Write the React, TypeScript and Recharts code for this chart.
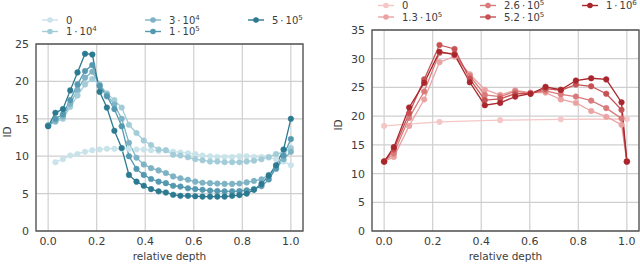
import { CartesianGrid, Line, LineChart, ReferenceArea, XAxis, YAxis } from "recharts";

// left panel: relative depth sampled 34 times
const depthLeft = [
  0, 0.03, 0.061, 0.091, 0.121, 0.152, 0.182, 0.212, 0.242, 0.273, 0.303, 0.333,
  0.364, 0.394, 0.424, 0.455, 0.485, 0.515, 0.545, 0.576, 0.606, 0.636, 0.667,
  0.697, 0.727, 0.758, 0.788, 0.818, 0.848, 0.879, 0.909, 0.939, 0.97, 1.0,
];
const left0 = [
  null, 9.2, 9.6, 10.1, 10.3, 10.6, 10.8, 10.9, 11.0, 11.0, 11.0, 11.0, 10.9, 10.9,
  10.8, 10.7, 10.8, 10.6, 10.5, 10.4, 10.3, 10.1, 10.0, 9.9, 9.9, 9.9, 10.0, 10.0,
  9.9, 9.9, 9.8, 9.6, 9.3, 8.8,
];
const left1e4 = [
  14.1, 14.6, 15.0, 16.6, 18.1, 19.6, 20.3, 19.6, 18.4, 17.5, 16.5, 14.2, 13.1, 12.1,
  11.5, 10.9, 10.8, 10.2, 10.1, 9.85, 9.6, 9.45, 9.3, 9.3, 9.2, 9.2, 9.2, 9.3, 9.4,
  9.6, 9.9, 10.3, 10.5, 11.1,
];
const left3e4 = [
  14.1, 14.7, 15.3, 17.0, 18.9, 20.5, 21.3, 19.5, 18.2, 16.9, 15.0, 11.8, 9.8, 8.9,
  8.4, 8.1, 7.75, 7.3, 7.05, 6.85, 6.6, 6.45, 6.4, 6.35, 6.3, 6.3, 6.35, 6.5, 6.7,
  6.9, 7.5, 8.3, 9.6, 10.6,
];
const left1e5 = [
  14.1, 15.0, 15.6, 17.5, 19.6, 21.4, 22.2, 19.4, 18.0, 16.3, 14.0, 10.0, 8.3, 7.5,
  6.95, 6.6, 6.4, 6.05, 5.95, 5.7, 5.6, 5.5, 5.4, 5.35, 5.3, 5.3, 5.35, 5.45, 5.6,
  6.0, 6.9, 8.4, 10.1, 12.3,
];
const left5e5 = [
  14.0, 15.8, 16.3, 18.8, 21.2, 23.7, 23.6, 18.6, 16.5, 13.4, 11.1, 7.5, 6.6, 6.05,
  5.6, 5.3, 5.15, 4.85, 4.7, 4.7, 4.65, 4.6, 4.6, 4.6, 4.6, 4.7, 4.8, 5.0, 5.5, 6.3,
  7.4, 8.8, 10.9, 15.0,
];

// right panel
const depthRight = [
  0, 0.04, 0.103, 0.165, 0.228, 0.29, 0.353, 0.415, 0.478, 0.54, 0.603, 0.665, 0.728,
  0.79, 0.853, 0.915, 0.978, 1.0,
];
const right0 = [18.3, null, null, null, 19.0, null, null, null, 19.3, null, null, null, 19.45, null, null, null, null, 19.5];
const right13e4 = [12.1, 12.9, 18.3, 22.9, 29.4, 30.4, 27.3, 24.6, 23.7, 24.5, 24.1, 24.1, 22.9, 22.3, 20.9, 19.9, 18.5, 12.1];
const right26e4 = [12.1, 13.5, 19.7, 24.3, 31.0, 30.9, 27.0, 23.7, 23.4, 24.3, 24.0, 24.4, 23.8, 23.4, 22.7, 21.4, 19.6, 12.1];
const right52e4 = [12.1, 14.2, 20.5, 26.4, 32.4, 31.7, 26.5, 22.8, 23.0, 23.9, 23.9, 24.8, 24.5, 25.5, 25.2, 23.9, 21.1, 12.1];
const right1e6 = [12.1, 14.6, 21.5, 25.8, 31.2, 30.7, 25.9, 21.9, 22.3, 23.4, 23.9, 25.1, 24.6, 26.2, 26.6, 26.4, 22.4, 12.1];

const xTicks = [0, 0.2, 0.4, 0.6, 0.8, 1.0];
const leftYTicks = [0, 5, 10, 15, 20, 25];
const rightYTicks = [0, 5, 10, 15, 20, 25, 30, 35];

type Series = { key: string; base: string; exp?: string; color: string; values: (number | null)[] };

const leftSeries: Series[] = [
  { key: "a", base: "0", color: "#c9e3eb", values: left0 },
  { key: "b", base: "1\u2009·\u200910", exp: "4", color: "#a3ccd9", values: left1e4 },
  { key: "c", base: "3\u2009·\u200910", exp: "4", color: "#7db3c5", values: left3e4 },
  { key: "d", base: "1\u2009·\u200910", exp: "5", color: "#5599b0", values: left1e5 },
  { key: "e", base: "5\u2009·\u200910", exp: "5", color: "#2c7a91", values: left5e5 },
];
const rightSeries: Series[] = [
  { key: "a", base: "0", color: "#f5c6c6", values: right0 },
  { key: "b", base: "1.3\u2009·\u200910", exp: "5", color: "#eaa3a3", values: right13e4 },
  { key: "c", base: "2.6\u2009·\u200910", exp: "5", color: "#d97a7b", values: right26e4 },
  { key: "d", base: "5.2\u2009·\u200910", exp: "5", color: "#c65254", values: right52e4 },
  { key: "e", base: "1\u2009·\u200910", exp: "6", color: "#a8262c", values: right1e6 },
];

const FONT = "'DejaVu Sans', sans-serif";
const INK = "#3c3c3c";
const GRID = "#cfcfcf";

function buildRows(xs: number[], series: Series[]) {
  return xs.map((x, i) => {
    const row: Record<string, number | null> = { x };
    series.forEach((s) => (row[s.key] = s.values[i]));
    return row;
  });
}

// column/row slots for the legend entries, matplotlib ncol=3 layout
const slots = [
  [0, 0], [0, 1], [1, 0], [1, 1], [2, 0],
];

function LegendRow({ series, x0, y0, colW }: { series: Series[]; x0: number; y0: number; colW: number }) {
  return (
    <g fontFamily={FONT} fontSize={10} fill={INK}>
      {series.map((s, i) => {
        const [c, r] = slots[i];
        const x = x0 + c * colW;
        const y = y0 + r * 11.5;
        return (
          <g key={s.key}>
            <line x1={x} x2={x + 16} y1={y} y2={y} stroke={s.color} strokeWidth={1.4} />
            <circle cx={x + 8} cy={y} r={2.8} fill={s.color} />
            <text x={x + 24} y={y + 3.6}>
              {s.base}
              {s.exp && (
                <tspan dy={-4} fontSize={7}>
                  {s.exp}
                </tspan>
              )}
            </text>
          </g>
        );
      })}
    </g>
  );
}

const YTick = (p: any) => (
  <text x={p.x} y={p.y} dy={4} textAnchor="end" fontFamily={FONT} fontSize={11} fill={INK}>
    {p.payload.value}
  </text>
);

const XTick = (p: any) => (
  <text x={p.x} y={p.y} dy={8} textAnchor="middle" fontFamily={FONT} fontSize={11} fill={INK}>
    {Number(p.payload.value).toFixed(1)}
  </text>
);

function Panel({
  series, xs, yMax, yTicks, top, yAxisW, right, titleX,
}: {
  series: Series[]; xs: number[]; yMax: number; yTicks: number[]; top: number; yAxisW: number; right: number; titleX: number;
}) {
  const rows = buildRows(xs, series);
  return (
    <LineChart width={320} height={264} data={rows} margin={{ top, right, bottom: 0, left: 0 }}>
      <CartesianGrid stroke={GRID} strokeWidth={1.2} />
      <XAxis
        dataKey="x"
        type="number"
        domain={[-0.05, 1.05]}
        ticks={xTicks}
        interval={0}
        axisLine={false}
        tickLine={false}
        tickSize={4}
        tickMargin={2}
        height={33}
        tick={<XTick />}
        label={{ value: "relative depth", position: "insideBottom", offset: 4, style: { fontFamily: FONT, fontSize: 10.5, fill: INK } }}
      />
      <YAxis
        type="number"
        domain={[0, yMax]}
        ticks={yTicks}
        interval={0}
        axisLine={false}
        tickLine={false}
        tickSize={4}
        tickMargin={3}
        width={yAxisW}
        tick={<YTick />}
        label={{ value: "ID", angle: -90, position: "insideLeft", offset: titleX, style: { fontFamily: FONT, fontSize: 10.5, fill: INK } }}
      />
      <ReferenceArea x1={-0.05} x2={1.05} y1={0} y2={yMax} fill="none" stroke="#555" strokeWidth={1.3} />
      {series.map((s) => (
        <Line
          key={s.key}
          dataKey={s.key}
          stroke={s.color}
          strokeWidth={1.3}
          dot={{ r: 2.8, fill: s.color, stroke: s.color, strokeWidth: 0.5 }}
          activeDot={false}
          connectNulls
          isAnimationActive={false}
        />
      ))}
    </LineChart>
  );
}

export default function App() {
  return (
    <div style={{ position: "absolute", left: 0, top: 0, width: 640, height: 264, background: "#fff" }}>
      <svg width={640} height={40} style={{ position: "absolute", left: 0, top: 0 }}>
        <LegendRow series={leftSeries} x0={42} y0={20} colW={103} />
        <LegendRow series={rightSeries} x0={378} y0={5.5} colW={102} />
      </svg>
      <div style={{ position: "absolute", left: 0, top: 0 }}>
        <Panel series={leftSeries} xs={depthLeft} yMax={25} yTicks={leftYTicks} top={44} yAxisW={36} right={17} titleX={7} />
      </div>
      <div style={{ position: "absolute", left: 320, top: 0 }}>
        <Panel series={rightSeries} xs={depthRight} yMax={35} yTicks={rightYTicks} top={30} yAxisW={52} right={1} titleX={18} />
      </div>
    </div>
  );
}
